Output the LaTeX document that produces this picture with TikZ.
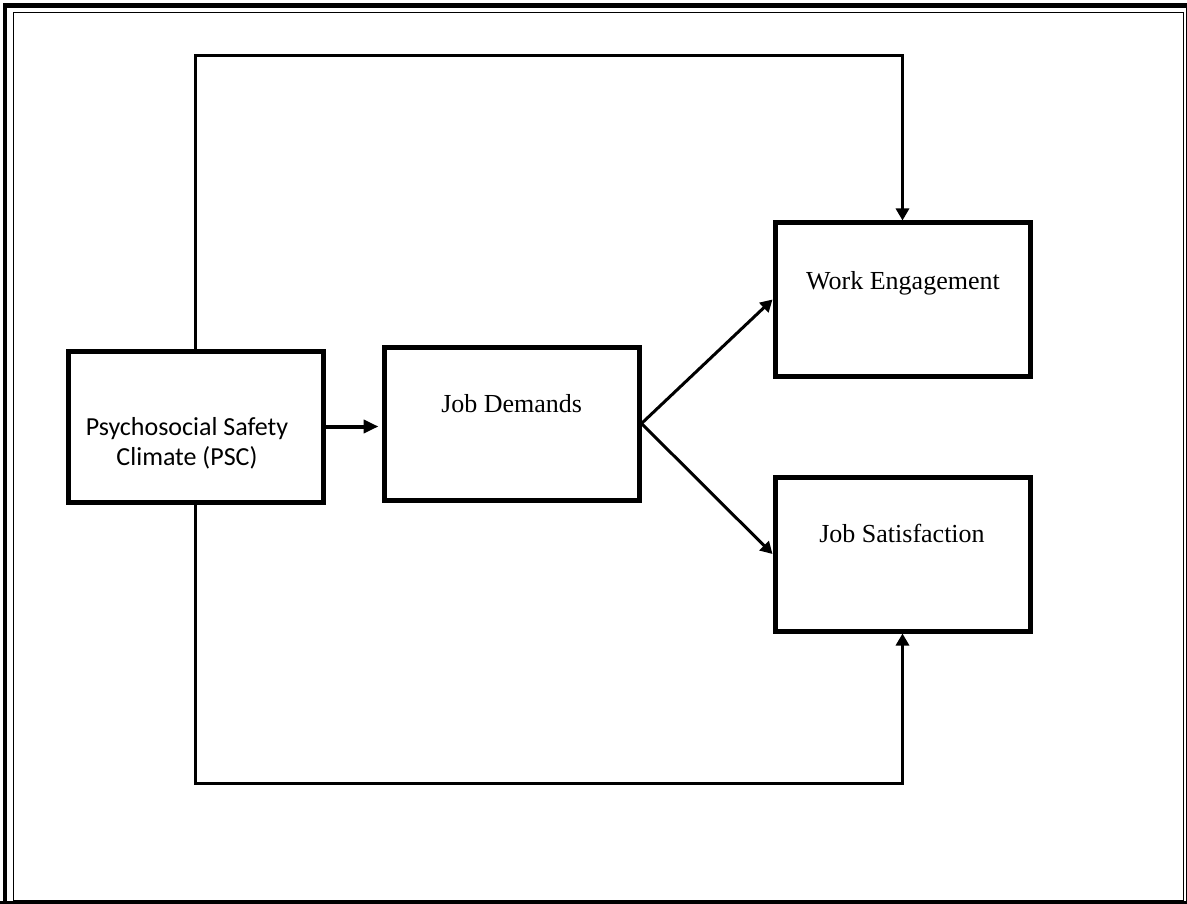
\documentclass[tikz,border=0pt]{standalone}
\usepackage{fontspec}
\setmainfont{Liberation Serif}
\newfontfamily\calibri{Carlito}
\usetikzlibrary{arrows.meta}
\begin{document}
\begin{tikzpicture}[x=1pt,y=-1pt,
  box/.style={draw, rectangle, line width=5pt, minimum width=255pt, inner sep=0pt},
  lbl/.style={font=\fontsize{26}{30}\selectfont, inner sep=0pt, anchor=base},
  conn/.style={line width=3pt, -{Triangle[length=12pt,width=13pt]}},
  thickconn/.style={line width=4pt, -{Triangle[length=15pt,width=13pt]}},
  ]
\useasboundingbox (0,0) rectangle (1187,904);
\fill[white] (0,0) rectangle (1187,904);
% page border (double line)
\draw[line width=4pt] (5.3,3.3) -- (5.3,904);
\draw[line width=5pt] (3.3,5.8) -- (1187,5.8);
\draw[line width=3.6pt] (1187.5,3.3) -- (1187.5,904);
\draw[line width=3pt] (0,902.7) -- (1187,902.7);
\draw[line width=1.5pt] (13.5,12.6) rectangle (1183.5,901);
% boxes
\node[box, minimum height=151pt] (psc) at (195.5,426.5) {};
\node[box, minimum height=153pt] (jd) at (511.5,423.5) {};
\node[box, minimum height=153pt] (we) at (902.5,299.5) {};
\node[box, minimum height=154pt] (js) at (902.5,554) {};
% texts
\node[lbl] (jdt) at (511.7,412.7) {Job Demands};
\node[lbl] (wet) at (903,289.3) {Work Engagement};
\node[lbl] (jst) at (902,542.7) {Job Satisfaction};
\node[lbl, font=\calibri\fontsize{26}{30}\selectfont, align=center, anchor=center] (psct) at (187,443) {Psychosocial Safety\\Climate (PSC)};
% connectors
\coordinate (top) at (0,55.5);
\coordinate (bot) at (0,783);
\draw[thickconn, shorten >=3pt] (psc.east) -- (psc.east -| jd.west);
\draw[conn] (jd.east) -- (we.west);
\draw[conn] (jd.east) -- (js.west);
\draw[conn] (psc.north) -- (psc.north |- top) -| (we.north);
\draw[conn] (psc.south) -- (psc.south |- bot) -| (js.south);
\end{tikzpicture}
\end{document}
